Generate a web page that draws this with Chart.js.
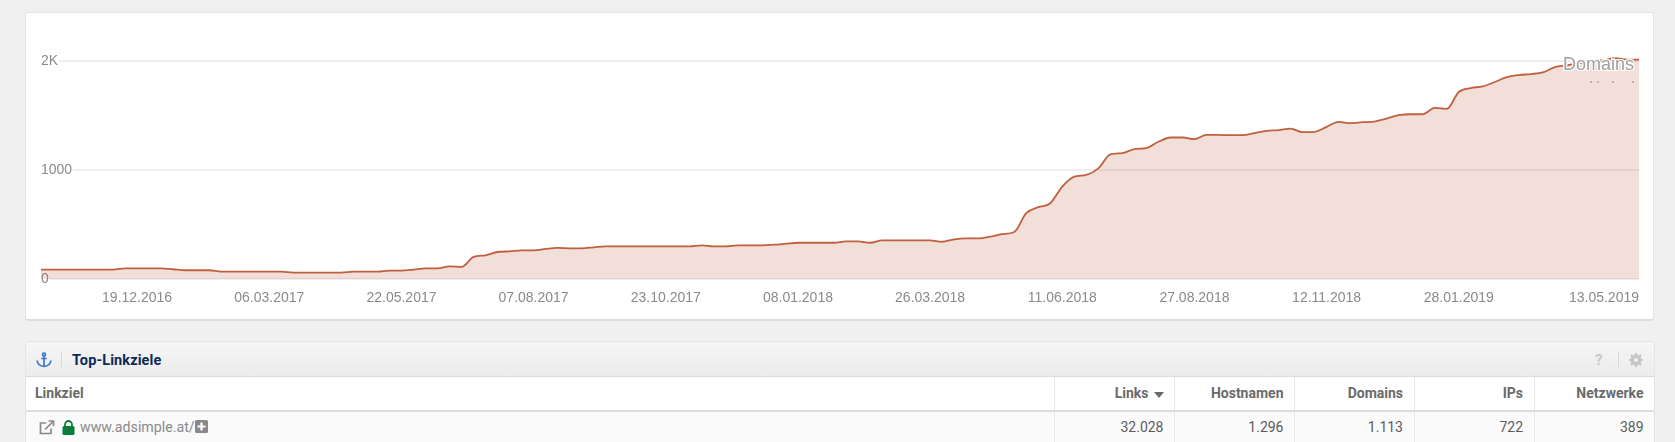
<!DOCTYPE html>
<html lang="de">
<head>
<meta charset="utf-8">
<title>Domains</title>
<script src="https://cdn.jsdelivr.net/npm/chart.js@4"></script>
<style>
html,body{margin:0;padding:0;width:1675px;height:442px;overflow:hidden;background:#f0f0f0;font-family:Roboto,sans-serif}
.abs,.panel,.cell{position:absolute}
.panel{box-sizing:border-box;background:#fff;border:1px solid #e4e4e4;border-bottom:2px solid #dedede;border-radius:3px}
#chartPanel{left:25px;top:12px;width:1629px;height:309px}
canvas{position:absolute;left:0;top:0}
#seriesName{position:absolute;right:41px;top:54px;font:18px "Liberation Sans",Arial,sans-serif;color:#a0a0a0;text-shadow:1px 1px 0 #fff,-1px -1px 0 #fff,1px -1px 0 #fff,-1px 1px 0 #fff;line-height:21px}
.speck{position:absolute;top:81px;width:2px;height:2px;background:#bdb5b2}
#tablePanel{left:25px;top:341px;width:1630px;height:120px;border-bottom:0;overflow:hidden}
#tableHead{position:absolute;left:0;top:0;right:0;height:34px;background:linear-gradient(#f5f5f5,#ececec);border-bottom:1px solid #dcdcdc}
#tableTitle{position:absolute;left:46px;top:10px;font:700 14.5px/18px Roboto,sans-serif;color:#0c2a5a;letter-spacing:.1px}
#colRow{position:absolute;left:0;right:0;top:35px;height:33px;background:#fff;border-bottom:2px solid #dcdcdc}
#bodyRow{position:absolute;left:0;right:0;top:70px;height:50px;background:#fafafa}
.cell{top:-1px;font:700 14px/34px Roboto,sans-serif;color:#6a6a6a;text-align:right;white-space:nowrap}
.val{top:0;font:400 14px/31px Roboto,sans-serif;color:#5c5c5c}
.sep{position:absolute;top:0;bottom:0;width:1px;background:#e8e8e8}
svg{position:absolute;display:block}
</style>
</head>
<body>
<div class="panel" id="chartPanel"></div>
<canvas id="chart" width="1675" height="322"></canvas>
<div id="seriesName">Domains</div>
<i class="speck" style="left:1590px"></i><i class="speck" style="left:1597px"></i><i class="speck" style="left:1612px"></i><i class="speck" style="left:1632px"></i>

<div class="panel" id="tablePanel">
  <div id="tableHead">
    <svg style="left:10px;top:10px" width="16" height="16" viewBox="0 0 16 16" fill="none" stroke="#3d77c9" stroke-width="1.7"><circle cx="8" cy="2.6" r="1.5"/><path d="M8 4v10.5M5.2 6.5h5.6M1.2 8.5c.3 3.6 3 5.6 6.8 6 3.8-.4 6.500-2.400 6.800-6"/></svg>
    <div class="abs" style="left:35px;top:10px;width:1px;height:15px;background:#d6d6d6"></div>
    <div id="tableTitle">Top-Linkziele</div>
    <div class="abs" style="left:1569px;top:9px;font:700 15px/18px Roboto,sans-serif;color:#c9c9c9">?</div>
    <div class="abs" style="left:1592px;top:10px;width:1px;height:15px;background:#d6d6d6"></div>
    <svg style="left:1603px;top:11px" width="14" height="14" viewBox="0 0 14 14"><circle cx="7" cy="7" r="3.900" fill="none" stroke="#c6c6c6" stroke-width="3"/><path d="M7 0v14M0 7h14M2 2l10 10M12 2L2 12" stroke="#c6c6c6" stroke-width="2.200"/><circle cx="7" cy="7" r="2" fill="#efefef"/></svg>
  </div>
  <div id="colRow"></div>
  <div id="bodyRow"></div>
</div>

<script>
const domainValues = [88,88,88,88,88,88,88,100,100,100,100,91,82,82,82,70,70,70,70,70,70,61,61,61,61,61,70,70,70,79,79,88,100,100,118,112,204,219,249,255,264,264,277,286,283,283,292,301,301,301,301,301,301,301,301,310,301,301,310,310,310,316,325,334,334,334,334,347,347,334,356,356,356,356,356,343,365,374,374,389,413,432,605,660,696,848,939,955,1015,1143,1155,1192,1201,1259,1298,1298,1283,1322,1322,1319,1319,1337,1359,1365,1380,1347,1350,1395,1441,1429,1438,1444,1471,1502,1511,1511,1569,1560,1715,1751,1766,1806,1851,1870,1879,1894,1943,1958,1980,1994,2003,2025,2012,2012];
const tickLabels = ["19.12.2016","06.03.2017","22.05.2017","07.08.2017","23.10.2017","08.01.2018","26.03.2018","11.06.2018","27.08.2018","12.11.2018","28.01.2019","13.05.2019"];
const yTickValues = [0,1000,2000];
const yTickText = ["0","1000","2K"];
const seriesName = "Domains";
const firstWeek = Date.UTC(2016,9,24);
const categories = domainValues.map((_,i)=>{
  const d = new Date(firstWeek + i*7*864e5);
  const p = n=>String(n).padStart(2,"0");
  return p(d.getUTCDate())+"."+p(d.getUTCMonth()+1)+"."+d.getUTCFullYear();
});

const tableColumns = ["Links","Hostnamen","Domains","IPs","Netzwerke"];
const tableRow = ["32.028","1.296","1.113","722","389"];
const tableFirstHead = "Linkziel";
const tableTarget = "www.adsimple.at/";

new Chart(document.getElementById("chart"),{
  type:"line",
  data:{labels:categories,datasets:[{
    label:seriesName,data:domainValues,
    borderColor:"#c0603f",borderWidth:1.8,backgroundColor:"rgba(192,96,63,0.2)",
    fill:"origin",pointRadius:0,cubicInterpolationMode:"monotone"
  }]},
  options:{
    responsive:false,animation:false,
    layout:{padding:{left:41,right:36,top:39,bottom:4}},
    plugins:{legend:{display:false},tooltip:{enabled:false}},
    scales:{
      x:{type:"category",offset:false,
        grid:{display:false,drawTicks:false},border:{display:false},
        ticks:{autoSkip:false,maxRotation:0,minRotation:0,align:"inner",padding:11,color:"#8a8a8a",
          font:{family:'"Liberation Sans",Arial,sans-serif',size:14},
          callback(v){const l=this.getLabelForValue(v);return tickLabels.includes(l)?l:"";}}},
      y:{min:0,max:2200,
        afterBuildTicks(s){s.ticks=yTickValues.map(value=>({value}));},
        grid:{color:"#eeeeee",lineWidth:2,drawTicks:false},border:{display:false},
        ticks:{mirror:true,padding:0,color:"#8a8a8a",
          showLabelBackdrop:true,backdropColor:"#fff",backdropPadding:{top:0,bottom:0,left:0,right:1},
          font:{family:'"Liberation Sans",Arial,sans-serif',size:14},
          callback(v){return yTickText[yTickValues.indexOf(v)]??"";}}}
    }
  }
});

const rights=[1163.5,1283.5,1403,1523,1643.5], seps=[1054.5,1174.5,1294.5,1414.5,1534.5];
const panelLeft=26;
const colRow=document.getElementById("colRow"), bodyRow=document.getElementById("bodyRow");
function addCell(parent,text,right,cls){
  const c=document.createElement("div");c.className="cell"+(cls?" "+cls:"");c.textContent=text;
  c.style.right=(1628-(right-panelLeft))+"px";parent.appendChild(c);return c;
}
seps.forEach(x=>{[colRow,bodyRow].forEach(p=>{const s=document.createElement("div");s.className="sep";s.style.left=(x-panelLeft-1)+"px";p.appendChild(s);});});
tableColumns.forEach((t,i)=>addCell(colRow,t,i===0?rights[0]-15:rights[i]));
tableRow.forEach((t,i)=>addCell(bodyRow,t,rights[i],"val"));
const first=document.createElement("div");first.className="cell";first.style.left="9px";first.style.right="auto";first.textContent=tableFirstHead;colRow.appendChild(first);
const tgt=document.createElement("div");tgt.className="cell val";tgt.style.left="54px";tgt.style.right="auto";tgt.style.color="#8a8a8a";tgt.style.fontSize="14.2px";tgt.textContent=tableTarget;bodyRow.appendChild(tgt);
colRow.insertAdjacentHTML("beforeend",'<svg style="left:1128px;top:15px" width="10" height="6" viewBox="0 0 10 6"><path d="M0 0h10L5 6z" fill="#6a6a6a"/></svg>');
bodyRow.insertAdjacentHTML("beforeend",
 '<svg style="left:13px;top:8px" width="16" height="15" viewBox="0 0 16 15" fill="none" stroke="#888" stroke-width="1.700"><path d="M7 3H1.500v10.500H12V8.500"/><path d="M6 9.500L14 1.500M9.500 1h5v5"/></svg>'+
 '<svg style="left:36px;top:8px" width="13" height="15" viewBox="0 0 13 15"><rect x="0.500" y="6" width="12" height="9" rx="1.500" fill="#0a7d3b"/><path d="M3 6.500V4.500a3.500 3.500 0 0 1 7 0v2" fill="none" stroke="#0a7d3b" stroke-width="1.800"/></svg>'+
 '<svg style="left:169px;top:8px" width="13" height="13" viewBox="0 0 13 13"><rect width="13" height="13" rx="1.500" fill="#888"/><path d="M6.500 2.500v8M2.500 6.500h8" stroke="#fff" stroke-width="2.200"/></svg>');
</script>
</body>
</html>
